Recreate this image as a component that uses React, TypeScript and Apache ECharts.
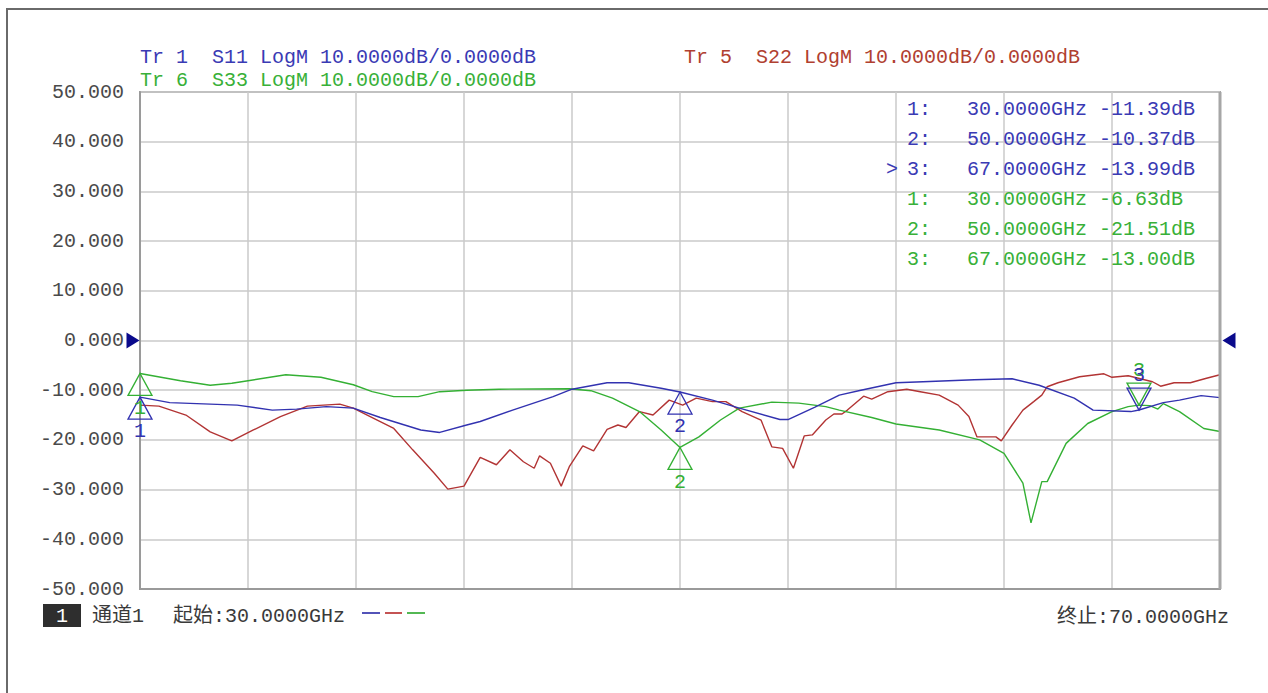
import React, { useEffect, useRef } from "react";
import * as echarts from "echarts";

const START_GHZ = 30;
const STOP_GHZ = 70;

const yTicksMin = -50;
const yTicksMax = 50;
const yTickStep = 10;

// S11 (Tr 1, blue)
const s11Freq = [30, 31.1, 33.6, 34.9, 35.8, 36.9, 37.9, 38.9, 40.4, 41.1, 42.1, 42.6, 43.8, 45.3, 46.0, 47.3, 48.1, 49.3, 50, 51.2, 52.2, 53.7, 54.0, 55.0, 55.9, 56.7, 58.0, 59.0, 60.9, 62.3, 63.3, 64.6, 65.3, 66.7, 67, 67.9, 68.5, 69.3, 70];
const s11Db = [-11.39, -12.5, -13.0, -14.0, -13.8, -13.3, -13.6, -15.5, -18.0, -18.5, -17.0, -16.3, -14.0, -11.3, -9.8, -8.5, -8.5, -9.6, -10.37, -12.0, -13.6, -15.9, -15.9, -13.4, -11.0, -10.0, -8.5, -8.3, -7.9, -7.7, -9.0, -11.6, -14.0, -14.3, -13.99, -12.5, -12.0, -11.1, -11.5];

// S22 (Tr 5, red)
const s22Freq = [30, 30.7, 31.7, 32.6, 33.4, 34.2, 35.2, 36.2, 37.4, 37.9, 38.6, 39.4, 40.1, 40.9, 41.4, 42.0, 42.6, 43.2, 43.7, 44.2, 44.6, 44.8, 45.2, 45.6, 45.9, 46.4, 46.8, 47.3, 47.7, 48.0, 48.5, 49.0, 49.6, 50.1, 50.6, 51.2, 51.7, 52.3, 53.0, 53.4, 53.8, 54.2, 54.6, 54.9, 55.4, 55.7, 56.0, 56.2, 56.8, 57.1, 57.7, 58.4, 58.9, 59.6, 60.3, 60.7, 61.0, 61.4, 61.7, 61.9, 62.3, 62.7, 63.1, 63.4, 63.6, 64.0, 64.8, 65.7, 66.0, 66.6, 67.5, 67.8, 68.3, 68.9, 69.5, 70];
const s22Db = [-13.0, -13.2, -15.0, -18.4, -20.2, -18.0, -15.3, -13.2, -12.8, -13.6, -15.5, -17.7, -22.0, -26.7, -29.9, -29.3, -23.5, -25.0, -22.0, -24.4, -25.7, -23.2, -24.7, -29.3, -25.4, -21.2, -22.2, -17.9, -17.0, -17.5, -14.3, -15.0, -12.0, -13.0, -11.6, -12.3, -12.3, -14.3, -16.0, -21.4, -21.7, -25.7, -19.2, -19.0, -16.0, -14.8, -14.8, -14.0, -11.2, -11.8, -10.3, -9.8, -10.3, -11.0, -13.0, -15.3, -19.4, -19.4, -19.4, -20.2, -17.0, -14.0, -12.3, -11.0, -9.3, -8.5, -7.3, -6.7, -7.4, -7.1, -8.3, -9.2, -8.5, -8.5, -7.6, -6.9];

// S33 (Tr 6, green)
const s33Freq = [30, 31.5, 32.6, 33.4, 34.0, 35.4, 36.7, 37.9, 38.6, 39.4, 40.3, 41.1, 42.1, 43.3, 45.9, 46.7, 47.5, 48.5, 49.3, 50, 50.7, 51.5, 52.2, 53.4, 54.4, 55.4, 55.9, 57.1, 58.0, 59.6, 61.1, 62.0, 62.7, 63.0, 63.4, 63.6, 64.3, 65.1, 66.0, 66.6, 67, 67.4, 67.7, 67.9, 68.5, 69.4, 70];
const s33Db = [-6.63, -8.1, -9.0, -8.6, -8.1, -6.9, -7.4, -8.9, -10.3, -11.3, -11.3, -10.3, -10.0, -9.8, -9.7, -10.1, -11.6, -14.3, -18.0, -21.51, -19.4, -16.0, -13.6, -12.4, -12.6, -13.3, -14.0, -15.5, -16.8, -18.0, -20.0, -22.7, -28.7, -36.7, -28.4, -28.4, -20.7, -16.7, -14.3, -13.3, -13.0, -13.1, -13.8, -12.7, -14.3, -17.7, -18.3];

// Markers
const markerFreqs = [30, 50, 67];
const s11MarkerDb = [-11.39, -10.37, -13.99];
const s33MarkerDb = [-6.63, -21.51, -13.0];
const activeMarker = 3;

const headerTr1 = "Tr 1  S11 LogM 10.0000dB/0.0000dB";
const headerTr6 = "Tr 6  S33 LogM 10.0000dB/0.0000dB";
const headerTr5 = "Tr 5  S22 LogM 10.0000dB/0.0000dB";
const channelText = "通道1";
const startText = "起始:30.0000GHz";
const stopText = "终止:70.0000GHz";

const FONT = "'Liberation Mono', 'DejaVu Sans Mono', 'Noto Sans CJK SC', monospace";
const BLUE = "#3232b0";
const RED = "#b23434";
const GREEN = "#34b034";
const BLUE_TXT = "#3a3ab4";
const GREEN_TXT = "#38b038";
const RED_TXT = "#b04030";

function pairs(f: number[], v: number[]) {
  return f.map((x, i) => [x - START_GHZ, v[i]]);
}

function markerItems(vals: number[], color: string) {
  return markerFreqs.map((f, i) => {
    const down = i === 2;
    return {
      name: String(i + 1),
      coord: [f - START_GHZ, vals[i]],
      symbol: down ? "path://M0,0L24,0L12,22Z" : "path://M12,0L24,22L0,22Z",
      symbolSize: [24, 22],
      symbolOffset: [0, down ? -11 : 11],
      itemStyle: { color: "rgba(0,0,0,0)", borderColor: color, borderWidth: 1.3 },
      label: {
        show: true,
        position: down ? "top" : "bottom",
        distance: 2,
        color,
        fontSize: 20,
        fontFamily: FONT,
        formatter: "{b}",
      },
    };
  });
}

function txt(text: string, x: number, y: number, fill: string, align = "left") {
  return {
    type: "text",
    z: 100,
    style: {
      text,
      x,
      y,
      fill,
      font: `20px ${FONT}`,
      align,
      verticalAlign: "middle",
      textAlign: align,
      textVerticalAlign: "middle",
    },
  };
}

export default function App() {
  const ref = useRef<HTMLDivElement>(null);
  useEffect(() => {
    if (!ref.current) return;
    const chart = echarts.init(ref.current, undefined, { renderer: "svg" });

    const tableRows: any[] = [];
    const rowY0 = 109;
    const rowH = 30;
    s11MarkerDb.forEach((v, i) => {
      tableRows.push(
        txt(`${i + 1}:   ${markerFreqs[i].toFixed(4)}GHz ${v.toFixed(2)}dB`, 907, rowY0 + i * rowH, BLUE_TXT)
      );
    });
    s33MarkerDb.forEach((v, i) => {
      tableRows.push(
        txt(`${i + 1}:   ${markerFreqs[i].toFixed(4)}GHz ${v.toFixed(2)}dB`, 907, rowY0 + (i + 3) * rowH, GREEN_TXT)
      );
    });
    tableRows.push(txt(">", 886, rowY0 + (activeMarker - 1) * rowH, BLUE_TXT));

    const refArrows = [
      {
        name: "refL",
        coord: [0, 0],
        symbol: "path://M0,0L13,8L0,16Z",
        symbolSize: [13, 16],
        symbolOffset: [-7, 0],
        itemStyle: { color: "#0a0a8c" },
        label: { show: false },
      },
      {
        name: "refR",
        coord: [STOP_GHZ - START_GHZ, 0],
        symbol: "path://M13,0L0,8L13,16Z",
        symbolSize: [13, 16],
        symbolOffset: [9, 0],
        itemStyle: { color: "#0a0a8c" },
        label: { show: false },
      },
    ];

    chart.setOption({
      animation: false,
      backgroundColor: "#ffffff",
      grid: {
        left: 140,
        right: 48,
        top: 92,
        bottom: 104,
        show: true,
        borderColor: "#a6a6a6",
        borderWidth: 2,
      },
      xAxis: {
        type: "value",
        min: 0,
        max: STOP_GHZ - START_GHZ,
        interval: 4,
        axisLabel: { show: false },
        axisTick: { show: false },
        axisLine: { show: true, onZero: false, lineStyle: { color: "#9a9a9a", width: 2 } },
        splitLine: { show: true, lineStyle: { color: "#cacaca", width: 1.5 } },
      },
      yAxis: {
        type: "value",
        min: yTicksMin,
        max: yTicksMax,
        interval: yTickStep,
        axisTick: { show: false },
        axisLine: { show: true, onZero: false, lineStyle: { color: "#9a9a9a", width: 2 } },
        splitLine: { show: true, lineStyle: { color: "#cacaca", width: 1.5 } },
        axisLabel: {
          formatter: (v: number) => v.toFixed(3),
          fontFamily: FONT,
          fontSize: 20,
          color: "#4a4a4a",
          margin: 16,
        },
      },
      series: [
        {
          name: "S22",
          type: "line",
          showSymbol: false,
          data: pairs(s22Freq, s22Db),
          lineStyle: { color: RED, width: 1.4 },
          itemStyle: { color: RED },
          z: 2,
        },
        {
          name: "S33",
          type: "line",
          showSymbol: false,
          data: pairs(s33Freq, s33Db),
          lineStyle: { color: GREEN, width: 1.4 },
          itemStyle: { color: GREEN },
          z: 3,
          markPoint: { data: markerItems(s33MarkerDb, GREEN) },
        },
        {
          name: "S11",
          type: "line",
          showSymbol: false,
          data: pairs(s11Freq, s11Db),
          lineStyle: { color: BLUE, width: 1.4 },
          itemStyle: { color: BLUE },
          z: 4,
          markPoint: { data: [...markerItems(s11MarkerDb, BLUE), ...refArrows] },
        },
      ],
      graphic: [
        {
          type: "rect",
          shape: { x: 7, y: 9, width: 1320, height: 720 },
          style: { fill: "none", stroke: "#6a6a6a", lineWidth: 2 },
          z: 0,
        },
        {
          type: "line",
          shape: { x1: 1220, y1: 92, x2: 1220, y2: 589 },
          style: { stroke: "#a6a6a6", lineWidth: 3 },
          z: 50,
        },
        txt(headerTr1, 140, 57, BLUE_TXT),
        txt(headerTr6, 140, 80, GREEN_TXT),
        txt(headerTr5, 684, 57, RED_TXT),
        ...tableRows,
        {
          type: "rect",
          shape: { x: 43, y: 604, width: 38, height: 23 },
          style: { fill: "#2e2e2e" },
          z: 100,
        },
        txt("1", 62, 616, "#ffffff", "center"),
        txt(channelText, 92, 616, "#3a3a3a"),
        txt(startText, 173, 616, "#3a3a3a"),
        {
          type: "line",
          shape: { x1: 362, y1: 613, x2: 380, y2: 613 },
          style: { stroke: "#1a1aa0", lineWidth: 1.5 },
          z: 100,
        },
        {
          type: "line",
          shape: { x1: 385, y1: 613, x2: 402, y2: 613 },
          style: { stroke: "#b01a1a", lineWidth: 1.5 },
          z: 100,
        },
        {
          type: "line",
          shape: { x1: 407, y1: 613, x2: 425, y2: 613 },
          style: { stroke: "#1aa01a", lineWidth: 1.5 },
          z: 100,
        },
        txt(stopText, 1057, 617, "#3a3a3a"),
      ],
    });
    return () => chart.dispose();
  }, []);

  return (
    <div
      ref={ref}
      style={{ position: "fixed", left: 0, top: 0, width: 1268, height: 693, background: "#fff" }}
    />
  );
}
